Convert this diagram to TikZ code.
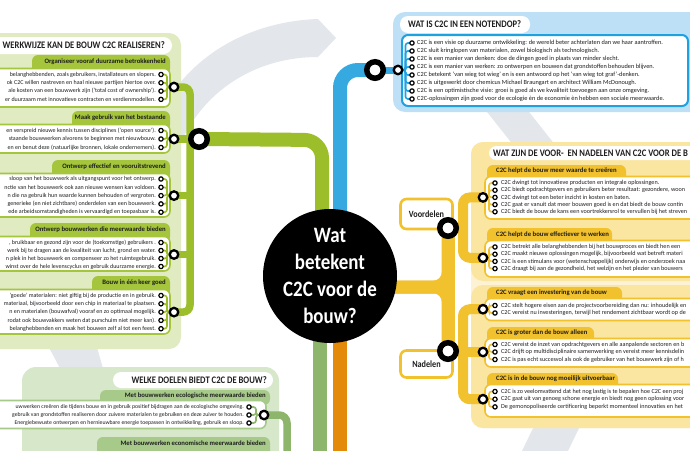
\documentclass[tikz,border=0pt]{standalone}
\usepackage{fontspec}
\setmainfont{Carlito}
\newfontfamily\headfont[FakeStretch=0.86]{Carlito}
\usetikzlibrary{calc}
\pgfdeclarelayer{back}
\pgfdeclarelayer{lines}
\pgfsetlayers{back,lines,main}
\definecolor{grayarc}{HTML}{E3E7EC}
\definecolor{gline}{HTML}{9DBE2B}
\definecolor{gpanel}{HTML}{E1EBC2}
\definecolor{gtab}{HTML}{A5C53D}
\definecolor{sline}{HTML}{8DB56B}
\definecolor{spanel}{HTML}{D7E7C9}
\definecolor{stab}{HTML}{A7CA8A}
\definecolor{bline}{HTML}{36A9E1}
\definecolor{bpanel}{HTML}{BEE0F6}
\definecolor{bborder}{HTML}{1EA1E1}
\definecolor{yline}{HTML}{F2C12E}
\definecolor{ypanel}{HTML}{FAE6A0}
\definecolor{ypale}{HTML}{FDF3D4}
\definecolor{oline}{HTML}{E38A0A}
\definecolor{txt}{HTML}{1E1E1E}
\newcommand{\itL}[3]{\node[itemL,anchor=east] (#1t) at (156,#2) {#3};\node[bullet] (#1) at (161,#2) {};}
\newcommand{\itS}[3]{\node[itemS,anchor=east] (#1t) at (244,#2) {#3};\node[bullet] (#1) at (249,#2) {};}
\newcommand{\itB}[3]{\node[item,anchor=west] (#1t) at (417,#2) {#3};\node[bullet] (#1) at (412,#2) {};}
\newcommand{\itY}[3]{\node[itemY,anchor=west] (#1t) at (501,#2) {#3};\node[bullet] (#1) at (495,#2) {};}
\newcommand{\combline}[4]{\draw[#1] (#2.center) -- (#2 -| #3) -- (#4 -| #3) -- (#4.center);}
\begin{document}
\begin{tikzpicture}[x=1pt,y=-1pt,
  item/.style={font=\fontsize{6.3}{6.5}\selectfont, inner sep=0pt, text=txt},
  itemY/.style={font=\fontsize{6.15}{6.5}\selectfont, inner sep=0pt, text=txt},
  itemL/.style={font=\fontsize{6.0}{6.5}\selectfont, inner sep=0pt, text=txt},
  itemS/.style={font=\fontsize{5.75}{6.5}\selectfont, inner sep=0pt, text=txt},
  tabtxt/.style={font=\bfseries\fontsize{6.7}{7}\selectfont, inner sep=0pt, text=txt},
  headtxt/.style={font=\headfont\bfseries\fontsize{10}{11}\selectfont, inner sep=0pt, text=txt},
  bullet/.style={circle, draw=black, line width=1.2pt, fill=white, minimum size=4.3pt, inner sep=0pt},
  gring/.style={circle, draw=black, line width=2.3pt, fill=white, minimum size=8.5pt, inner sep=0pt},
  bigring/.style={circle, draw=black, line width=5.5pt, fill=white, minimum size=16.5pt, inner sep=0pt},
  gcomb/.style={draw=gline, line width=1.6pt, rounded corners=2.5pt},
  scomb/.style={draw=sline, line width=1.6pt, rounded corners=2.5pt},
  bcomb/.style={draw=bborder, line width=1.6pt, rounded corners=2.5pt},
  ycomb/.style={draw=yline, line width=1.6pt, rounded corners=2.5pt},
  gboxst/.style={fill=white, draw=gtab, line width=1.6pt, rounded corners=6pt},
  sboxst/.style={fill=white, draw=stab, line width=1.6pt, rounded corners=6pt},
  yboxst/.style={fill=white, draw=yline, line width=1.6pt, rounded corners=6pt},
  namebox/.style={draw=yline, line width=2.6pt, fill=white, rounded corners=6pt, minimum width=52pt, inner sep=0pt, font=\headfont\bfseries\fontsize{9.5}{10}\selectfont, text=txt}
]
\useasboundingbox (0,0) rectangle (690,450);
\clip (0,0) rectangle (690,450);

\begin{pgfonlayer}{back}
\fill[white] (0,0) rectangle (690,450);
% grey circular arrow pieces
\fill[grayarc] (150,140) .. controls (170,70) and (235,22) .. (318,19) -- (336,38) -- (318,57) .. controls (258,57) and (207,88) .. (182,140) -- cycle;
\fill[grayarc] (476,98) -- (518,98) -- (556,146) -- (514,146) -- cycle;
\fill[grayarc] (538,418) -- (584,418) -- (566,455) -- (520,455) -- cycle;
\fill[grayarc] (45,340) -- (95,340) -- (104,372) -- (62,372) -- cycle;
% panels
\fill[gpanel, rounded corners=12] (-20,33) rectangle (181,349);
\fill[spanel, rounded corners=14] (22,367) rectangle (279,470);
\fill[bpanel, rounded corners=12] (393,12) rectangle (720,112);
\fill[ypale, rounded corners=12] (471,142) rectangle (720,428);
\fill[ypanel, rounded corners=12] (471,142) rectangle (720,281);
\fill[ypanel, rounded corners=12] (471,285) rectangle (720,428);
% header pills
\fill[white, rounded corners=8.5] (-20,37) rectangle (172,54);
\fill[white, rounded corners=8] (113,372) rectangle (273,388);
\fill[white, rounded corners=8] (400,16) rectangle (530,33);
\fill[white, rounded corners=7] (489,146) rectangle (720,160);
% blue box
\filldraw[fill=white, draw=bborder, line width=2, rounded corners=6] (402,35) rectangle (688,106);
% green tabs and boxes
\fill[gtab, rounded corners=6] (32,55) rectangle (170,75);
\filldraw[gboxst] (-10,68.5) rectangle (170,107);
\fill[gtab, rounded corners=6] (72,111) rectangle (170,131);
\filldraw[gboxst] (-10,124.5) rectangle (170,153);
\fill[gtab, rounded corners=6] (52,160) rectangle (170,180);
\filldraw[gboxst] (-10,173.5) rectangle (170,217);
\fill[gtab, rounded corners=6] (30,223) rectangle (170,243);
\filldraw[gboxst] (-10,236.5) rectangle (170,271);
\fill[gtab, rounded corners=6] (92,276) rectangle (170,296);
\filldraw[gboxst] (-10,289.5) rectangle (170,334);
% sage tabs and boxes
\fill[stab, rounded corners=6] (100,390) rectangle (270,405);
\filldraw[sboxst] (-10,400.5) rectangle (266,428.5);
\fill[stab, rounded corners=6] (97,437) rectangle (270,460);
% yellow tabs and boxes
\fill[yline, rounded corners=6] (487,165) rectangle (626,182);
\filldraw[yboxst] (485,176.5) rectangle (705,219);
\fill[yline, rounded corners=6] (487,228) rectangle (612,245);
\filldraw[yboxst] (485,240.5) rectangle (705,277);
\fill[yline, rounded corners=6] (487,287) rectangle (622,304);
\filldraw[yboxst] (485,298.5) rectangle (705,320.5);
\fill[yline, rounded corners=6] (487,327) rectangle (594,344);
\filldraw[yboxst] (485,338.5) rectangle (705,367);
\fill[yline, rounded corners=6] (487,373) rectangle (618,390);
\filldraw[yboxst] (485,384.5) rectangle (705,417);
\end{pgfonlayer}

% coordinates
\coordinate (gc) at (167,0);
\coordinate (sc) at (256,0);
\coordinate (bc) at (405.5,0);
\coordinate (yc) at (489,0);
\coordinate (gtr) at (190,0);
\coordinate (ytr) at (463,0);
\coordinate (gturn) at (322,140);
\coordinate (bturn) at (340,70);
\coordinate (ybr) at (448,287);
\coordinate (sEnd) at (320,455);
\coordinate (oEnd) at (340,455);
\coordinate (sturn) at (287,415);

% headers
\node[headtxt, anchor=east] (h1) at (165,45.5) {WERKWIJZE KAN DE BOUW C2C REALISEREN?};
\node[headtxt, anchor=east] (h2) at (267,380) {WELKE DOELEN BIEDT C2C DE BOUW?};
\node[headtxt, anchor=west] (h3) at (408,24.5) {WAT IS C2C IN EEN NOTENDOP?};
\node[headtxt, anchor=west] (h4) at (493,153) {WAT ZIJN DE VOOR-\ \ EN NADELEN VAN C2C VOOR DE B};

% tab texts
\node[tabtxt, anchor=east] (t1) at (166,62) {Organiseer vooraf duurzame betrokkenheid};
\node[tabtxt, anchor=east] (t2) at (166,118) {Maak gebruik van het bestaande};
\node[tabtxt, anchor=east] (t3) at (166,167) {Ontwerp effectief en vooruitstrevend};
\node[tabtxt, anchor=east] (t4) at (166,230) {Ontwerp bouwwerken die meerwaarde bieden};
\node[tabtxt, anchor=east] (t5) at (166,283) {Bouw in één keer goed};
\node[tabtxt, anchor=east] (t6) at (266,396) {Met bouwwerken ecologische meerwaarde bieden};
\node[tabtxt, anchor=east] (t7) at (266,443) {Met bouwwerken economische meerwaarde bieden};
\node[tabtxt, anchor=west] (t8) at (496,171) {C2C helpt de bouw meer waarde te creëren};
\node[tabtxt, anchor=west] (t9) at (496,234.5) {C2C helpt de bouw effectiever te werken};
\node[tabtxt, anchor=west] (t10) at (496,293) {C2C vraagt een investering van de bouw};
\node[tabtxt, anchor=west] (t11) at (496,333) {C2C is groter dan de bouw alleen};
\node[tabtxt, anchor=west] (t12) at (496,379) {C2C is in de bouw nog moeilijk uitvoerbaar};

% left green items
\itL{g1a}{74.5}{belanghebbenden, zoals gebruikers, installateurs en slopers.}
\itL{g1b}{82.8}{ok C2C willen nastreven en haal nieuwe partijen hiertoe over.}
\itL{g1c}{91.1}{ale kosten van een bouwwerk zijn (‘total cost of ownership’).}
\itL{g1d}{99.4}{er duurzaam met innovatieve contracten en verdienmodellen.}
\itL{g2a}{130.5}{en verspreid nieuwe kennis tussen disciplines (‘open source’).}
\itL{g2b}{139}{staande bouwwerken alvorens te beginnen met nieuwbouw.}
\itL{g2c}{147.5}{en en benut deze (natuurlijke bronnen, lokale ondernemers).}
\itL{g3a}{179}{sloop van het bouwwerk als uitgangspunt voor het ontwerp.}
\itL{g3b}{187.3}{nctie van het bouwwerk ook aan nieuwe wensen kan voldoen.}
\itL{g3c}{195.6}{n die na gebruik hun waarde kunnen behouden of vergroten.}
\itL{g3d}{203.9}{generieke (en niet zichtbare) onderdelen van een bouwwerk.}
\itL{g3e}{212.2}{ede arbeidsomstandigheden is vervaardigd en toepasbaar is.}
\itL{g4a}{242.5}{, bruikbaar en gezond zijn voor de (toekomstige) gebruikers .}
\itL{g4b}{250.5}{werk bij te dragen aan de kwaliteit van lucht, grond en water.}
\itL{g4c}{258.5}{n plek in het bouwwerk en compenseer zo het ruimtegebruik.}
\itL{g4d}{266.5}{winst over de hele levenscyclus en gebruik duurzame energie.}
\itL{g5a}{295.5}{‘goede’ materialen: niet giftig bij de productie en in gebruik.}
\itL{g5b}{303.8}{materiaal, bijvoorbeeld door een chip in materiaal te plaatsen.}
\itL{g5c}{312.1}{n en materialen (bouwafval) vooraf en zo optimaal mogelijk.}
\itL{g5d}{320.4}{rodat ook bouwvakkers weten dat purschuim niet meer kan).}
\itL{g5e}{328.7}{belanghebbenden en maak het bouwen zelf al tot een feest.}

% sage items
\itS{s1a}{407}{uwwerken creëren die tijdens bouw en in gebruik positief bijdragen aan de ecologische omgeving.}
\itS{s1b}{415}{gebruik van grondstoffen realiseren door zuivere materialen te gebruiken en deze zuiver te houden.}
\itS{s1c}{423}{Energiebewuste ontwerpen en hernieuwbare energie toepassen in ontwikkeling, gebruik en sloop.}

% blue items
\itB{ba}{43}{C2C is een visie op duurzame ontwikkeling: de wereld beter achterlaten dan we haar aantroffen.}
\itB{bb}{51}{C2C sluit kringlopen van materialen, zowel biologisch als technologisch.}
\itB{bcc}{59}{C2C is een manier van denken: doe de dingen goed in plaats van minder slecht.}
\itB{bd}{67}{C2C is een manier van werken: zo ontwerpen en bouwen dat grondstoffen behouden blijven.}
\itB{be}{75}{C2C betekent ‘van wieg tot wieg’ en is een antwoord op het ‘van wieg tot graf’-denken.}
\itB{bf}{83}{C2C is uitgewerkt door chemicus Michael Braungart en architect William McDonough.}
\itB{bg}{91}{C2C is een optimistische visie: groei is goed als we kwaliteit toevoegen aan onze omgeving.}
\itB{bh}{99}{C2C-oplossingen zijn goed voor de ecologie èn de economie èn hebben een sociale meerwaarde.}

% yellow items
\itY{y1a}{183}{C2C dwingt tot innovatieve producten en integrale oplossingen.}
\itY{y1b}{190.2}{C2C biedt opdrachtgevers en gebruikers beter resultaat: gezondere, woon}
\itY{y1c}{197.4}{C2C dwingt tot een beter inzicht in kosten en baten.}
\itY{y1d}{204.6}{C2C gaat er vanuit dat meer bouwen goed is en dat biedt de bouw contin}
\itY{y1e}{211.8}{C2C biedt de bouw de kans een voortrekkersrol te vervullen bij het streven}
\itY{y2a}{247}{C2C betrekt alle belanghebbenden bij het bouwproces en biedt hen een}
\itY{y2b}{254.2}{C2C maakt nieuwe oplossingen mogelijk, bijvoorbeeld wat betreft materi}
\itY{y2c}{261.4}{C2C is een stimulans voor (wetenschappelijk) onderwijs en onderzoek naa}
\itY{y2d}{268.6}{C2C draagt bij aan de gezondheid, het welzijn en het plezier van bouwers}
\itY{n1a}{305.5}{C2C stelt hogere eisen aan de projectvoorbereiding dan nu: inhoudelijk en}
\itY{n1b}{313}{C2C vereist nu investeringen, terwijl het rendement zichtbaar wordt op de}
\itY{n2a}{344.5}{C2C vereist de inzet van opdrachtgevers en alle aanpalende sectoren en b}
\itY{n2b}{352}{C2C drijft op multidisciplinaire samenwerking en vereist meer kennisdelin}
\itY{n2c}{359.5}{C2C is pas echt succesvol als ook de gebruiker van het bouwwerk zijn of h}
\itY{n3a}{391.5}{C2C is zo veelomvattend dat het nog lastig is te bepalen hoe C2C een proj}
\itY{n3b}{399.2}{C2C gaat uit van genoeg schone energie en biedt nog geen oplossing voor}
\itY{n3c}{406.9}{De gemonopoliseerde certificering beperkt momenteel innovaties en het}

% group rings
\node[gring] (g1r) at (174,87) {};
\node[gring] (g2r) at (174,139) {};
\node[gring] (g3r) at (174,195.6) {};
\node[gring] (g4r) at (174,254.5) {};
\node[gring] (g5r) at (174,312.1) {};
\node[bigring] (gbig) at (199,139) {};
\node[gring] (s1r) at (264,415) {};
\node[bigring] (bbig) at (375,70) {};
\node[gring] (brg) at (398,70) {};
\node[gring] (y1r) at (483,197.4) {};
\node[gring] (y2r) at (483,257.8) {};
\node[gring] (n1r) at (483,309.2) {};
\node[gring] (n2r) at (483,352) {};
\node[gring] (n3r) at (483,399.2) {};

% central circle and name boxes
\node[circle, fill=black, minimum size=134pt, inner sep=0pt, text=white, align=center,
  font=\headfont\bfseries\fontsize{22}{27}\selectfont] (circ) at (330,276) {Wat\\betekent\\C2C voor de\\bouw?};
\node[namebox, minimum height=30pt] (vbox) at (426.5,214) {Voordelen};
\node[namebox, minimum height=27pt] (nbox) at (426.5,364) {Nadelen};
\node[bigring] (vring) at (448,228) {};
\node[bigring] (nring) at (448,351) {};

\begin{pgfonlayer}{lines}
% main lines
\draw[gline, line width=14pt, rounded corners=18pt] (gbig.center) -- (gturn) -- (gturn |- circ);
\draw[bline, line width=14pt, rounded corners=18pt] (bturn |- circ) -- (bturn) -- (bbig.center);
\draw[bline, line width=7pt] (bbig.center) -- (brg.center);
\draw[sline, line width=14pt] (sEnd |- circ) -- (sEnd);
\draw[oline, line width=14pt] (oEnd |- circ) -- (oEnd);
\draw[yline, line width=13pt, rounded corners=14pt] (circ |- ybr) -- (ybr) -- (vring.center);
\draw[yline, line width=13pt, rounded corners=14pt] (circ |- ybr) -- (ybr) -- (nring.center);
\draw[yline, line width=13pt] (vring.center) -- (nring.center);
% green trunk
\draw[gline, line width=7.5pt, rounded corners=7pt] (g1r.center) -- (g1r -| gtr) -- (g5r -| gtr) -- (g5r.center);
\foreach \r in {g2r,g3r,g4r} \draw[gline, line width=7.5pt] (\r.center) -- (\r -| gtr);
% sage
\draw[sline, line width=7.5pt, rounded corners=8pt] (s1r.center) -- (sturn) -- (sturn |- sEnd);
% yellow trunks
\draw[yline, line width=10pt, rounded corners=7pt] (y1r.center) -- (y1r -| ytr) -- (y2r -| ytr) -- (y2r.center);
\draw[yline, line width=10pt] (vring.center) -- (vring -| ytr);
\draw[yline, line width=10pt, rounded corners=7pt] (n1r.center) -- (n1r -| ytr) -- (n3r -| ytr) -- (n3r.center);
\draw[yline, line width=10pt] (n2r.center) -- (n2r -| ytr);
\draw[yline, line width=10pt] (nring.center) -- (nring -| ytr);
% combs
\foreach \b in {g1a,g1b,g1c,g1d} {\combline{gcomb}{g1r}{gc}{\b}}
\foreach \b in {g2a,g2b,g2c} {\combline{gcomb}{g2r}{gc}{\b}}
\foreach \b in {g3a,g3b,g3c,g3d,g3e} {\combline{gcomb}{g3r}{gc}{\b}}
\foreach \b in {g4a,g4b,g4c,g4d} {\combline{gcomb}{g4r}{gc}{\b}}
\foreach \b in {g5a,g5b,g5c,g5d,g5e} {\combline{gcomb}{g5r}{gc}{\b}}
\foreach \b in {s1a,s1b,s1c} {\combline{scomb}{s1r}{sc}{\b}}
\foreach \b in {ba,bb,bcc,bd,be,bf,bg,bh} {\combline{bcomb}{brg}{bc}{\b}}
\foreach \b in {y1a,y1b,y1c,y1d,y1e} {\combline{ycomb}{y1r}{yc}{\b}}
\foreach \b in {y2a,y2b,y2c,y2d} {\combline{ycomb}{y2r}{yc}{\b}}
\foreach \b in {n1a,n1b} {\combline{ycomb}{n1r}{yc}{\b}}
\foreach \b in {n2a,n2b,n2c} {\combline{ycomb}{n2r}{yc}{\b}}
\foreach \b in {n3a,n3b,n3c} {\combline{ycomb}{n3r}{yc}{\b}}
\end{pgfonlayer}
\end{tikzpicture}
\end{document}
